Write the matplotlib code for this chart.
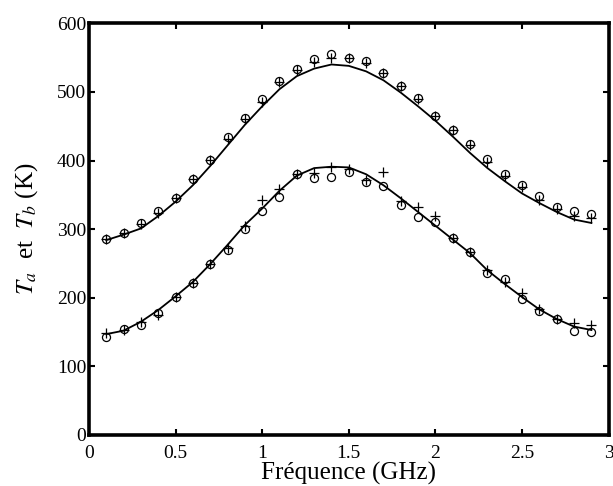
import matplotlib
matplotlib.use("Agg")
import matplotlib.pyplot as plt

plt.rcParams['font.family'] = ['Liberation Serif', 'DejaVu Serif']
plt.rcParams['mathtext.fontset'] = 'stix'

freq = [0.1, 0.2, 0.3, 0.4, 0.5, 0.6, 0.7, 0.8, 0.9, 1.0,
        1.1, 1.2, 1.3, 1.4, 1.5, 1.6, 1.7, 1.8, 1.9, 2.0,
        2.1, 2.2, 2.3, 2.4, 2.5, 2.6, 2.7, 2.8, 2.9]

# upper curve (T_a)
ta_line = [284, 292, 301, 319, 340, 364, 392, 422, 452, 479,
           504, 523, 534, 540, 538, 530, 517, 499, 479, 458,
           435, 411, 389, 370, 352, 338, 325, 314, 309]
ta_circ = [285, 295, 309, 326, 345, 373, 401, 434, 462, 490,
           516, 534, 548, 555, 550, 545, 528, 509, 491, 465,
           445, 424, 402, 380, 364, 348, 332, 326, 322]
ta_plus = [285, 294, 307, 323, 345, 373, 401, 432, 461, 486,
           515, 532, 544, 550, 550, 542, 527, 509, 489, 465,
           444, 422, 398, 378, 361, 343, 329, 319, 316]

# lower curve (T_b)
tb_line = [147, 152, 165, 182, 202, 223, 249, 277, 306, 330,
           356, 378, 389, 391, 390, 380, 364, 345, 325, 305,
           285, 265, 240, 220, 201, 183, 169, 158, 153]
tb_circ = [143, 154, 161, 178, 201, 222, 249, 269, 300, 326,
           347, 380, 375, 376, 384, 368, 363, 335, 317, 310,
           287, 266, 236, 227, 198, 180, 169, 151, 150]
tb_plus = [148, 153, 165, 175, 201, 222, 249, 273, 305, 343,
           358, 380, 382, 390, 388, 372, 383, 341, 333, 319,
           287, 266, 240, 223, 207, 183, 169, 163, 160]

fig = plt.figure(figsize=(6.13, 4.86), dpi=100)
ax = fig.add_axes([0.145, 0.105, 0.848, 0.847])

for line, circ, plus in [(ta_line, ta_circ, ta_plus), (tb_line, tb_circ, tb_plus)]:
    ax.plot(freq, line, color='black', lw=1.3)
    ax.plot(freq, circ, linestyle='none', marker='o', mfc='none', mec='black',
            markersize=5.8, mew=0.9)
    ax.plot(freq, plus, linestyle='none', marker='+', color='black',
            markersize=6.5, mew=0.9)

ax.set_xlim(0, 3)
ax.set_ylim(0, 600)
ax.set_xticks([0, 0.5, 1, 1.5, 2, 2.5, 3])
ax.set_xticklabels(['0', '0.5', '1', '1.5', '2', '2.5', '3'])
ax.set_yticks([0, 100, 200, 300, 400, 500, 600])
for s in ax.spines.values():
    s.set_linewidth(2.6)
ax.tick_params(direction='in', length=4, width=1.5, top=True, right=True,
               labelsize=14)
ax.tick_params(axis='y', pad=2)
ax.tick_params(axis='x', pad=7)
ax.set_xlabel('Fréquence (GHz)', fontsize=18, labelpad=0)
ax.set_ylabel(r'$T_a$  et  $T_b$ (K)', fontsize=18, labelpad=12)

fig.savefig('out.png', dpi=100)
